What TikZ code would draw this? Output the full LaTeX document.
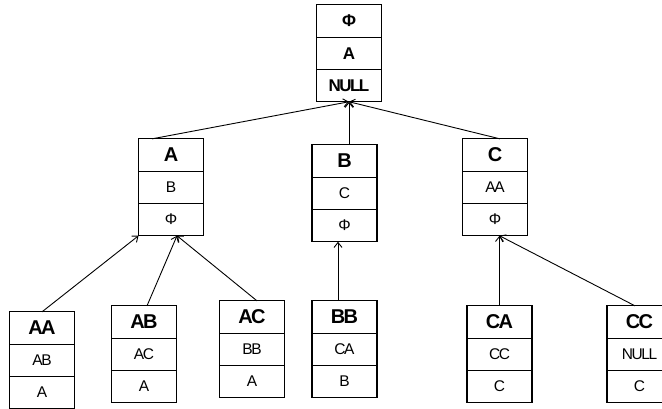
\documentclass[tikz,border=0pt]{standalone}
\usepackage{fontspec}
\setmainfont{Liberation Sans}[LetterSpace=-9]
\usetikzlibrary{positioning,arrows.meta}
\tikzset{
  cell/.style={draw=black,line width=1.1pt,outer sep=0pt,inner sep=0pt,
    minimum width=65pt,minimum height=32.3pt},
  head/.style={cell,font=\fontsize{20}{20}\selectfont\bfseries},
  body/.style={cell,font=\fontsize{15.5}{15.5}\selectfont},
  rootcell/.style={cell,font=\fontsize{17}{17}\selectfont\bfseries},
  link/.style={draw=black,line width=0.9pt,-{Straight Barb[length=5pt,width=8pt]}},
}

\begin{document}
\begin{tikzpicture}[x=1pt,y=-1pt]
\useasboundingbox (0,0) rectangle (662,409);
\clip (0,0) rectangle (662,409);
% root
\node[rootcell] (r1) at (349,21) {Φ};
\node[rootcell,below=0pt of r1] (r2) {A};
\node[rootcell,below=0pt of r2] (r3) {NULL};
% second level
\node[head] (a1) at (171,155) {A};
\node[body,below=0pt of a1] (a2) {B};
\node[body,below=0pt of a2] (a3) {Φ};
\node[head] (b1) at (344.5,161) {B};
\node[body,below=0pt of b1] (b2) {C};
\node[body,below=0pt of b2] (b3) {Φ};
\node[head] (c1) at (495,155) {C};
\node[body,below=0pt of c1] (c2) {AA};
\node[body,below=0pt of c2] (c3) {Φ};
% third level
\node[head] (aa1) at (42,328) {AA};
\node[body,below=0pt of aa1] (aa2) {AB};
\node[body,below=0pt of aa2] (aa3) {A};
\node[head] (ab1) at (144,322) {AB};
\node[body,below=0pt of ab1] (ab2) {AC};
\node[body,below=0pt of ab2] (ab3) {A};
\node[head] (ac1) at (252,317) {AC};
\node[body,below=0pt of ac1] (ac2) {BB};
\node[body,below=0pt of ac2] (ac3) {A};
\node[head] (bb1) at (344.5,317) {BB};
\node[body,below=0pt of bb1] (bb2) {CA};
\node[body,below=0pt of bb2] (bb3) {B};
\node[head] (ca1) at (499.5,322) {CA};
\node[body,below=0pt of ca1] (ca2) {CC};
\node[body,below=0pt of ca2] (ca3) {C};
\node[head] (cc1) at (639.5,322) {CC};
\node[body,below=0pt of cc1] (cc2) {NULL};
\node[body,below=0pt of cc2] (cc3) {C};
% links up to the parents
\draw[link] ([xshift=-19pt]a1.north) -- (r3.south);
\draw[link] ([xshift=4.5pt]b1.north) -- (r3.south);
\draw[link] ([xshift=5pt]c1.north) -- (r3.south);
\draw[link] (aa1.north) -- (a3.south west);
\draw[link] ([xshift=3pt]ab1.north) -- ([xshift=6pt]a3.south);
\draw[link] ([xshift=5pt]ac1.north) -- ([xshift=6pt]a3.south);
\draw[link] ([xshift=-6.5pt]bb1.north) -- ([xshift=-6.5pt]b3.south);
\draw[link] (ca1.north) -- ([xshift=4.5pt]c3.south);
\draw[link] ([xshift=-4.5pt]cc1.north) -- ([xshift=4.5pt]c3.south);
\end{tikzpicture}
\end{document}
